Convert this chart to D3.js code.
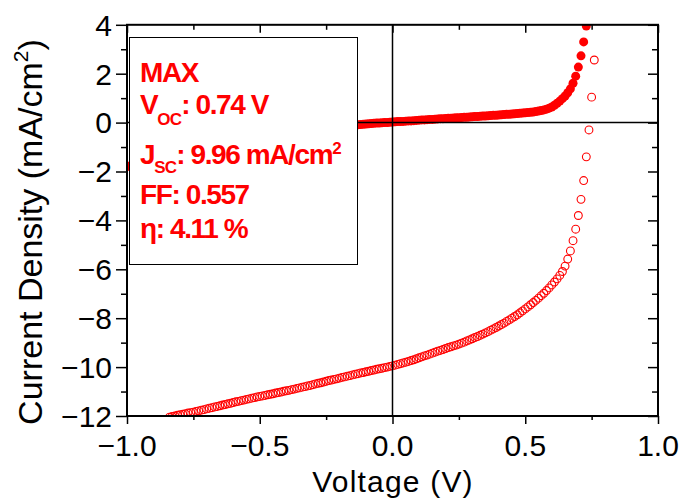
<!DOCTYPE html>
<html>
<head>
<meta charset="utf-8">
<script src="https://cdn.jsdelivr.net/npm/d3@7/dist/d3.min.js"></script>
<style>
html,body{margin:0;padding:0;background:#fff;}
svg{display:block;}
</style>
</head>
<body>
<script>
// ---- Data ----
// Dark J-V curve (filled circles): voltage (V) and current density (mA/cm2)
const darkV = [-1.00,-0.99,-0.98,-0.97,-0.96,-0.95,-0.94,-0.93,-0.92,-0.91,-0.90,-0.89,-0.88,-0.87,-0.86,-0.85,-0.84,-0.83,-0.82,-0.81,-0.80,-0.79,-0.78,-0.77,-0.76,-0.75,-0.74,-0.73,-0.72,-0.71,-0.70,-0.69,-0.68,-0.67,-0.66,-0.65,-0.64,-0.63,-0.62,-0.61,-0.60,-0.59,-0.58,-0.57,-0.56,-0.55,-0.54,-0.53,-0.52,-0.51,-0.50,-0.49,-0.48,-0.47,-0.46,-0.45,-0.44,-0.43,-0.42,-0.41,-0.40,-0.39,-0.38,-0.37,-0.36,-0.35,-0.34,-0.33,-0.32,-0.31,-0.30,-0.29,-0.28,-0.27,-0.26,-0.25,-0.24,-0.23,-0.22,-0.21,-0.20,-0.19,-0.18,-0.17,-0.16,-0.15,-0.14,-0.13,-0.12,-0.11,-0.10,-0.09,-0.08,-0.07,-0.06,-0.05,-0.04,-0.03,-0.02,-0.01,0.00,0.01,0.02,0.03,0.04,0.05,0.06,0.07,0.08,0.09,0.10,0.11,0.12,0.13,0.14,0.15,0.16,0.17,0.18,0.19,0.20,0.21,0.22,0.23,0.24,0.25,0.26,0.27,0.28,0.29,0.30,0.31,0.32,0.33,0.34,0.35,0.36,0.37,0.38,0.39,0.40,0.41,0.42,0.43,0.44,0.45,0.46,0.47,0.48,0.49,0.50,0.51,0.52,0.53,0.54,0.55,0.56,0.57,0.58,0.59,0.60,0.61,0.62,0.63,0.64,0.65,0.66,0.67,0.68,0.69,0.70,0.71,0.72,0.73,0.74];
const darkJ = [-1.80,-1.77,-1.74,-1.71,-1.68,-1.65,-1.62,-1.59,-1.56,-1.53,-1.50,-1.47,-1.44,-1.41,-1.39,-1.36,-1.33,-1.31,-1.28,-1.26,-1.23,-1.21,-1.18,-1.16,-1.13,-1.11,-1.08,-1.06,-1.04,-1.01,-0.99,-0.97,-0.95,-0.93,-0.90,-0.88,-0.86,-0.84,-0.82,-0.80,-0.78,-0.76,-0.74,-0.73,-0.71,-0.69,-0.67,-0.65,-0.64,-0.62,-0.60,-0.58,-0.57,-0.55,-0.53,-0.52,-0.50,-0.49,-0.47,-0.46,-0.44,-0.43,-0.41,-0.40,-0.38,-0.37,-0.36,-0.34,-0.33,-0.31,-0.30,-0.29,-0.27,-0.26,-0.25,-0.23,-0.22,-0.21,-0.20,-0.18,-0.17,-0.16,-0.15,-0.14,-0.13,-0.11,-0.10,-0.09,-0.08,-0.07,-0.06,-0.05,-0.04,-0.03,-0.02,-0.02,-0.01,0.00,0.00,0.01,0.02,0.03,0.04,0.04,0.05,0.06,0.07,0.07,0.08,0.09,0.10,0.11,0.11,0.12,0.13,0.13,0.14,0.15,0.16,0.16,0.17,0.18,0.18,0.19,0.20,0.20,0.21,0.22,0.22,0.23,0.24,0.25,0.25,0.26,0.27,0.27,0.28,0.29,0.30,0.30,0.31,0.32,0.33,0.34,0.34,0.35,0.36,0.37,0.38,0.39,0.40,0.41,0.42,0.43,0.45,0.47,0.49,0.52,0.55,0.59,0.64,0.71,0.79,0.88,0.98,1.09,1.22,1.38,1.61,1.90,2.27,2.73,3.30,3.95,4.70];

// Illuminated J-V curve (open circles)
const lightV = [-0.84,-0.83,-0.82,-0.81,-0.80,-0.79,-0.78,-0.77,-0.76,-0.75,-0.74,-0.73,-0.72,-0.71,-0.70,-0.69,-0.68,-0.67,-0.66,-0.65,-0.64,-0.63,-0.62,-0.61,-0.60,-0.59,-0.58,-0.57,-0.56,-0.55,-0.54,-0.53,-0.52,-0.51,-0.50,-0.49,-0.48,-0.47,-0.46,-0.45,-0.44,-0.43,-0.42,-0.41,-0.40,-0.39,-0.38,-0.37,-0.36,-0.35,-0.34,-0.33,-0.32,-0.31,-0.30,-0.29,-0.28,-0.27,-0.26,-0.25,-0.24,-0.23,-0.22,-0.21,-0.20,-0.19,-0.18,-0.17,-0.16,-0.15,-0.14,-0.13,-0.12,-0.11,-0.10,-0.09,-0.08,-0.07,-0.06,-0.05,-0.04,-0.03,-0.02,-0.01,0.00,0.01,0.02,0.03,0.04,0.05,0.06,0.07,0.08,0.09,0.10,0.11,0.12,0.13,0.14,0.15,0.16,0.17,0.18,0.19,0.20,0.21,0.22,0.23,0.24,0.25,0.26,0.27,0.28,0.29,0.30,0.31,0.32,0.33,0.34,0.35,0.36,0.37,0.38,0.39,0.40,0.41,0.42,0.43,0.44,0.45,0.46,0.47,0.48,0.49,0.50,0.51,0.52,0.53,0.54,0.55,0.56,0.57,0.58,0.59,0.60,0.61,0.62,0.63,0.64,0.65,0.66,0.67,0.68,0.69,0.70,0.71,0.72,0.73,0.74,0.75,0.76];
const lightJ = [-12.05,-12.02,-12.00,-11.97,-11.95,-11.93,-11.91,-11.88,-11.86,-11.84,-11.81,-11.79,-11.76,-11.74,-11.71,-11.68,-11.66,-11.63,-11.61,-11.58,-11.55,-11.53,-11.50,-11.48,-11.45,-11.42,-11.40,-11.37,-11.35,-11.32,-11.30,-11.27,-11.25,-11.22,-11.20,-11.18,-11.16,-11.13,-11.11,-11.09,-11.06,-11.04,-11.02,-10.99,-10.97,-10.95,-10.92,-10.90,-10.87,-10.85,-10.82,-10.80,-10.77,-10.75,-10.72,-10.69,-10.66,-10.64,-10.61,-10.58,-10.55,-10.53,-10.50,-10.48,-10.45,-10.42,-10.40,-10.37,-10.35,-10.32,-10.29,-10.27,-10.24,-10.22,-10.19,-10.17,-10.14,-10.12,-10.09,-10.07,-10.05,-10.02,-10.00,-9.97,-9.95,-9.92,-9.89,-9.86,-9.83,-9.80,-9.77,-9.73,-9.70,-9.66,-9.62,-9.58,-9.54,-9.51,-9.47,-9.43,-9.39,-9.35,-9.32,-9.28,-9.24,-9.20,-9.17,-9.13,-9.10,-9.06,-9.02,-8.98,-8.93,-8.89,-8.84,-8.79,-8.75,-8.70,-8.65,-8.60,-8.55,-8.49,-8.44,-8.38,-8.32,-8.26,-8.20,-8.13,-8.07,-8.00,-7.93,-7.86,-7.78,-7.70,-7.62,-7.54,-7.45,-7.36,-7.27,-7.18,-7.08,-6.98,-6.87,-6.76,-6.64,-6.52,-6.39,-6.25,-6.09,-5.87,-5.58,-5.25,-4.83,-4.36,-3.80,-3.14,-2.37,-1.40,-0.30,1.04,2.56];

// Axis ticks
const xMajor = [-1.0, -0.5, 0.0, 0.5, 1.0];
const xMinor = [-0.75, -0.25, 0.25, 0.75];
const yMajor = [-12, -10, -8, -6, -4, -2, 0, 2, 4];
const yMinor = [-11, -9, -7, -5, -3, -1, 1, 3];

// Legend text
const legendTitle = "MAX";
const vocText = ": 0.74 V";
const jscText = ": 9.96 mA/cm";
const ffText = "FF: 0.557";
const etaText = "\u03b7: 4.11 %";

// ---- Drawing ----
const W = 682, H = 499;
const red = "#ff0000";
const svg = d3.select("body").append("svg").attr("width", W).attr("height", H);

const x = d3.scaleLinear().domain([-1, 1]).range([127, 658]);
const y = d3.scaleLinear().domain([-12, 4]).range([416, 24.8]);

svg.append("defs").append("clipPath").attr("id", "plotclip")
  .append("rect").attr("x", x(-1)).attr("y", y(4))
  .attr("width", x(1) - x(-1)).attr("height", y(-12) - y(4));

const plot = svg.append("g").attr("clip-path", "url(#plotclip)");

// illuminated (open circles)
plot.append("g").selectAll("circle").data(lightV.map((v, i) => [v, lightJ[i]]))
  .join("circle")
  .attr("cx", d => x(d[0])).attr("cy", d => y(d[1])).attr("r", 3.9)
  .attr("fill", "none").attr("stroke", red).attr("stroke-width", 1.1);

// dark (filled circles)
plot.append("g").selectAll("circle").data(darkV.map((v, i) => [v, darkJ[i]]))
  .join("circle")
  .attr("cx", d => x(d[0])).attr("cy", d => y(d[1])).attr("r", 4.5)
  .attr("fill", red);

// zero lines
svg.append("line").attr("x1", x(-1)).attr("x2", x(1)).attr("y1", y(0)).attr("y2", y(0))
  .attr("stroke", "#000").attr("stroke-width", 1.5);
svg.append("line").attr("x1", x(0)).attr("x2", x(0)).attr("y1", y(4)).attr("y2", y(-12))
  .attr("stroke", "#000").attr("stroke-width", 1.5);

// legend box
svg.append("rect").attr("x", 129.5).attr("y", 37.5).attr("width", 228).attr("height", 227)
  .attr("fill", "#fff").attr("stroke", "#000").attr("stroke-width", 1);

const lg = svg.append("g").attr("fill", red)
  .attr("font-family", "'Liberation Sans', Arial, sans-serif")
  .attr("font-weight", "bold").attr("font-size", 28).attr("letter-spacing", -1.4);

lg.append("text").attr("x", 140).attr("y", 82).text(legendTitle);
const t2 = lg.append("text").attr("x", 140).attr("y", 114);
t2.append("tspan").text("V");
t2.append("tspan").attr("font-size", 17).attr("dy", 11).attr("letter-spacing", -0.8).text("OC");
t2.append("tspan").attr("dy", -11).text(vocText);
const t3 = lg.append("text").attr("x", 140).attr("y", 164);
t3.append("tspan").text("J");
t3.append("tspan").attr("font-size", 17).attr("dy", 9).attr("letter-spacing", -0.8).text("SC");
t3.append("tspan").attr("dy", -9).text(jscText);
t3.append("tspan").attr("font-size", 17).attr("dy", -10).text("2");
lg.append("text").attr("x", 140).attr("y", 204).text(ffText);
lg.append("text").attr("x", 140).attr("y", 238).text(etaText);

// axes ticks
function ticks(axis, vals, size, transform) {
  const g = svg.append("g").attr("transform", transform)
    .call(axis.tickValues(vals).tickSize(size).tickSizeOuter(0).tickFormat(""));
  g.select(".domain").remove();
  g.selectAll("line").attr("stroke", "#000").attr("stroke-width", 1.5);
  return g;
}
ticks(d3.axisBottom(x), xMajor, 8, `translate(0,${y(-12)})`);
ticks(d3.axisBottom(x), xMinor, 4, `translate(0,${y(-12)})`);
ticks(d3.axisTop(x), xMajor, -8, `translate(0,${y(4)})`);
ticks(d3.axisTop(x), xMinor, -5, `translate(0,${y(4)})`);
ticks(d3.axisLeft(y), yMajor, 11, `translate(${x(-1)},0)`);
ticks(d3.axisLeft(y), yMinor, 6, `translate(${x(-1)},0)`);
ticks(d3.axisRight(y), yMajor, -10, `translate(${x(1)},0)`);
ticks(d3.axisRight(y), yMinor, -6, `translate(${x(1)},0)`);

// frame
svg.append("rect").attr("x", x(-1)).attr("y", y(4))
  .attr("width", x(1) - x(-1)).attr("height", y(-12) - y(4))
  .attr("fill", "none").attr("stroke", "#000").attr("stroke-width", 2);

// tick labels
const fx = d3.format(".1f"), fy = d3.format("d");
svg.append("g").attr("font-family", "'Liberation Sans', Arial, sans-serif").attr("font-size", 30)
  .selectAll("text").data(xMajor).join("text")
  .attr("x", d => x(d)).attr("y", 456).attr("text-anchor", "middle").text(d => fx(d));
svg.append("g").attr("font-family", "'Liberation Sans', Arial, sans-serif").attr("font-size", 30)
  .selectAll("text").data(yMajor).join("text")
  .attr("x", 112).attr("y", d => y(d)).attr("dy", "0.36em").attr("text-anchor", "end").text(d => fy(d));

// axis titles
svg.append("text").attr("x", 393).attr("y", 492).attr("text-anchor", "middle")
  .attr("font-family", "'Liberation Sans', Arial, sans-serif").attr("font-size", 30)
  .attr("letter-spacing", 1.2)
  .text("Voltage (V)");
const yt = svg.append("text").attr("transform", "translate(42,232) rotate(-90)")
  .attr("text-anchor", "middle")
  .attr("font-family", "'Liberation Sans', Arial, sans-serif").attr("font-size", 34);
yt.append("tspan").text("Current Density (mA/cm");
yt.append("tspan").attr("font-size", 21).attr("dy", -14).text("2");
yt.append("tspan").attr("dy", 14).text(")");
</script>
</body>
</html>
